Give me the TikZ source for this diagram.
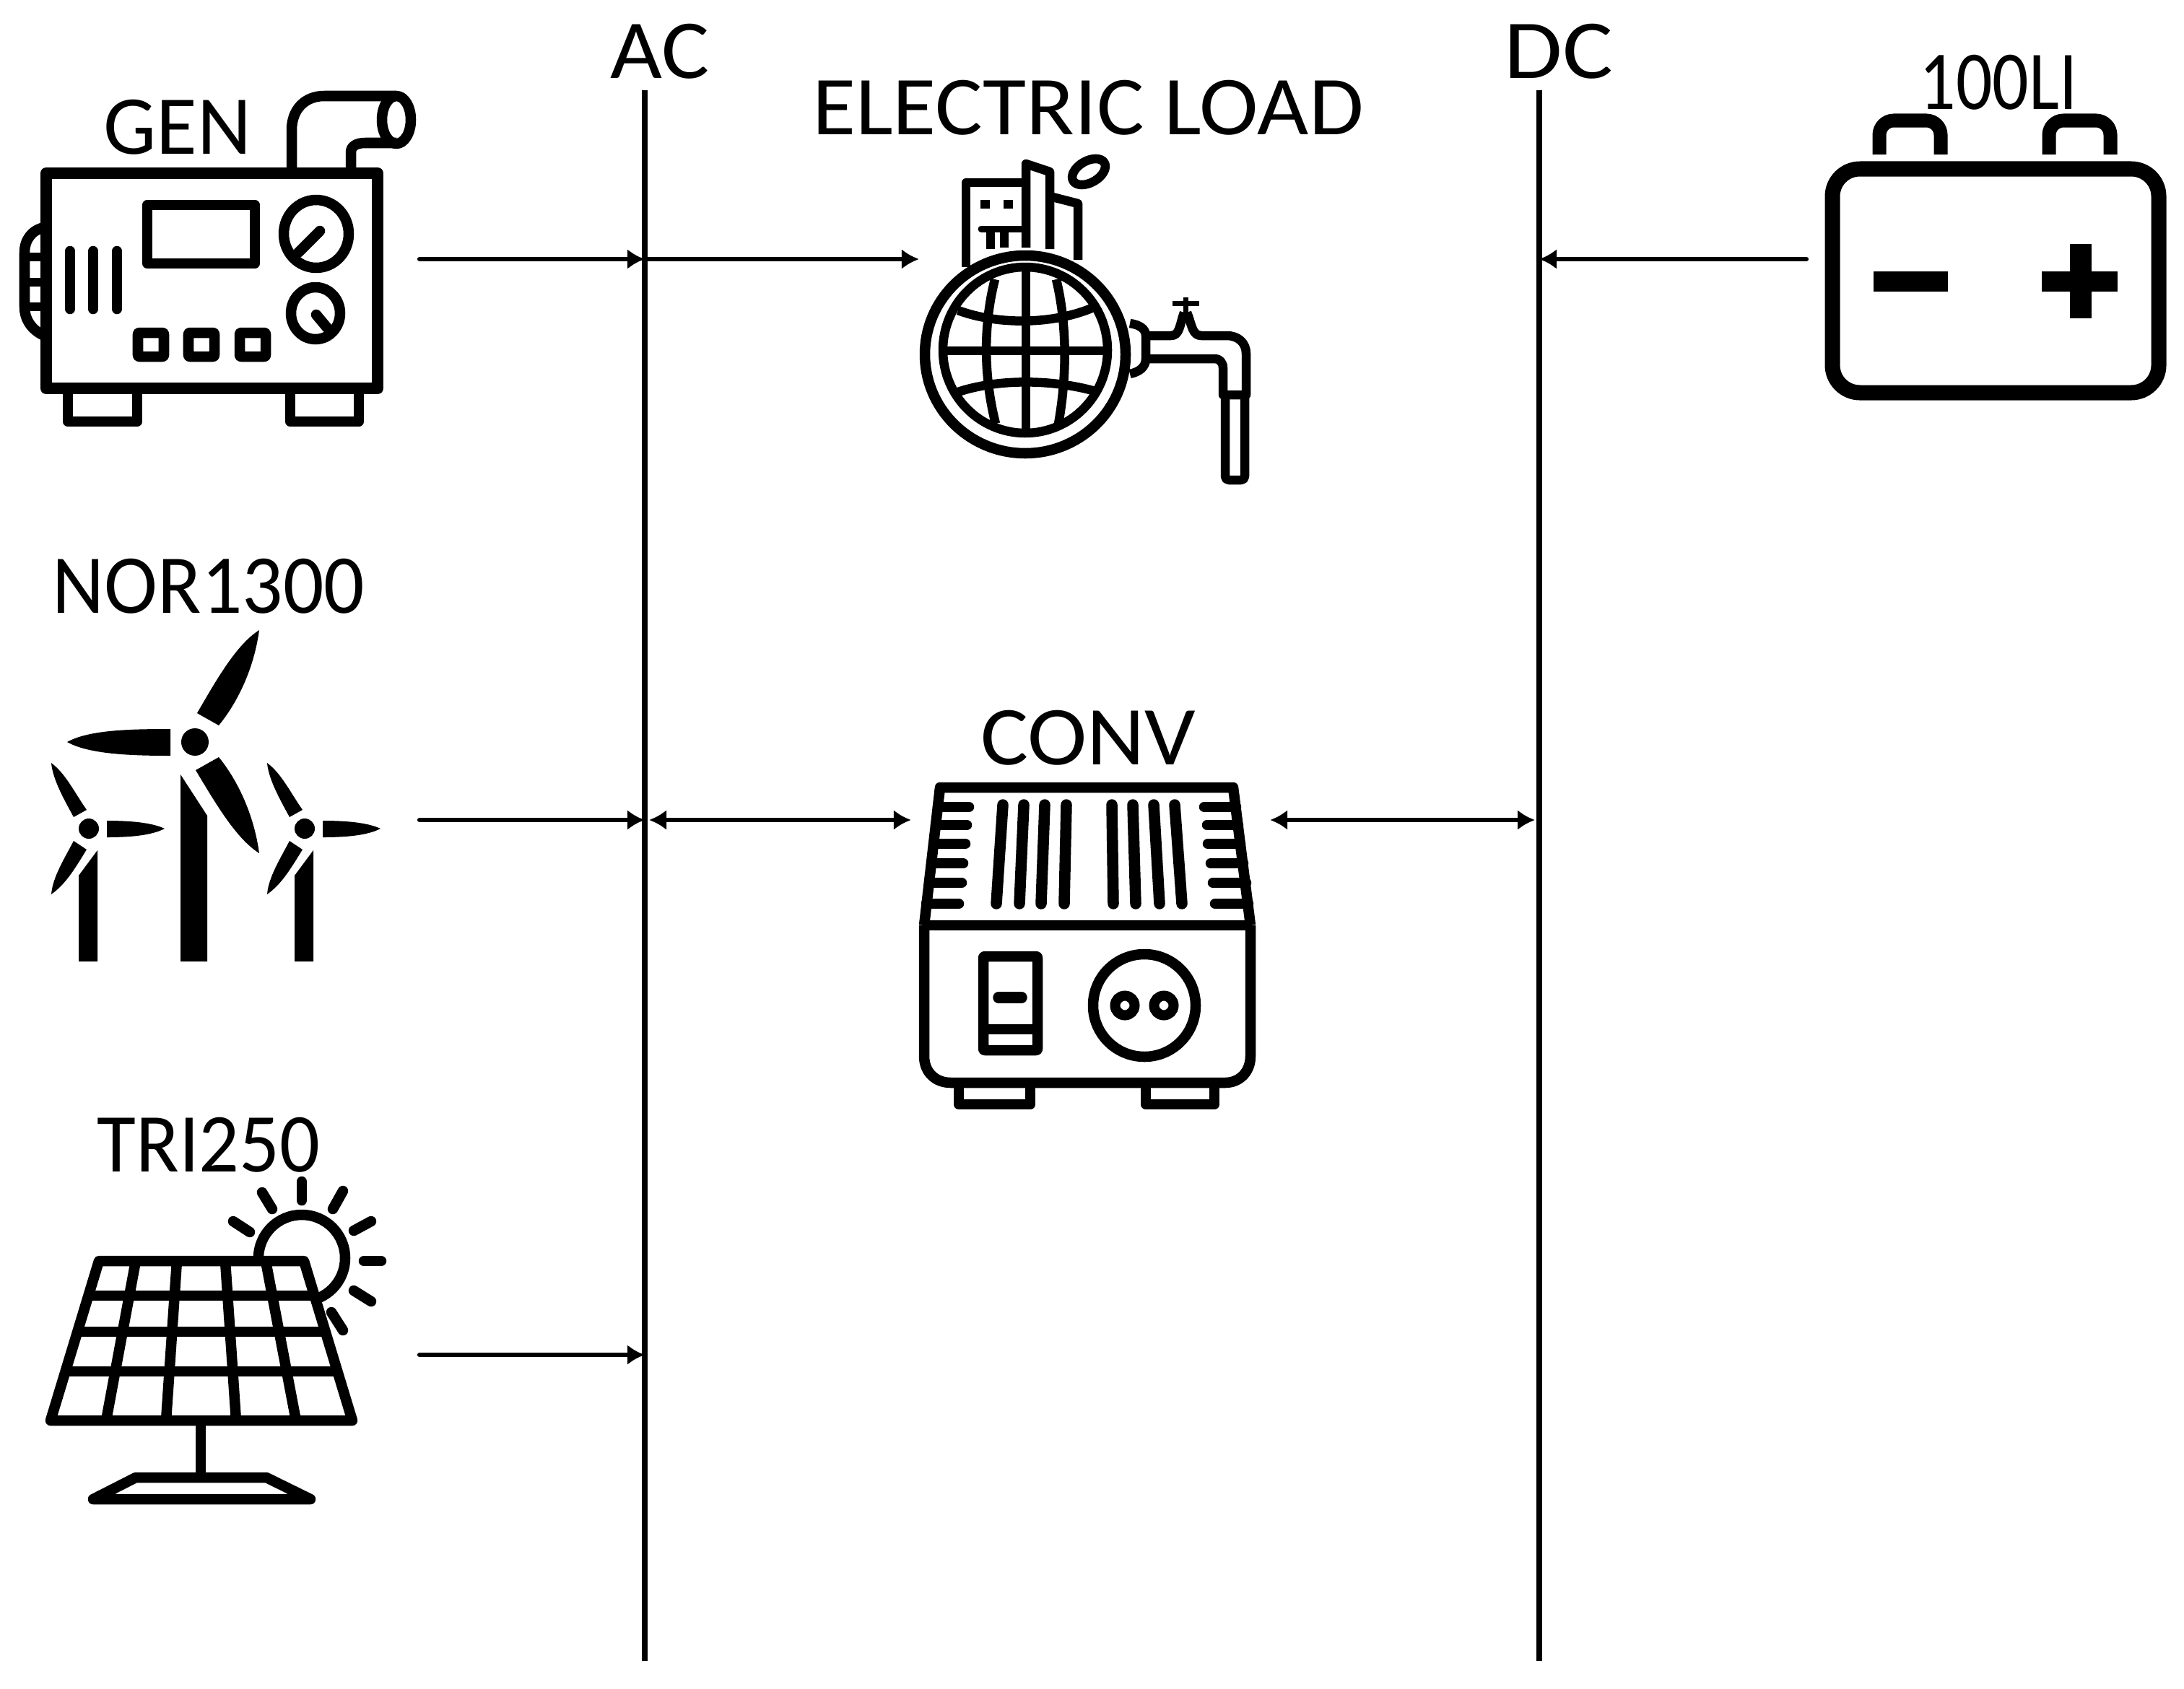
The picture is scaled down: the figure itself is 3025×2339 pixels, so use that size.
\documentclass[tikz,border=0pt]{standalone}
\usepackage{fontspec}
\setmainfont{Carlito}
\usetikzlibrary{arrows.meta,positioning}

\tikzset{
    ink/.style={line width=0.145cm, line join=round},
    thin ink/.style={line width=0.125cm, line join=round},
    stick/.style={ink, line cap=round},
    tag/.style={font=\fontsize{33}{33}\selectfont, inner sep=0pt, transform shape},
    box/.style={minimum height=1cm, inner sep=0pt, outer sep=0pt},
    bus/.style={line width=0.08cm},
    conn/.style={line width=0.065cm, line cap=round},
}

\begin{document}
\begin{tikzpicture}[x=0.01cm, y=-0.01cm, >={Latex[length=0.24cm,width=0.28cm]}]
        \useasboundingbox (0,0) rectangle (3025,2339);

        % labels
        \node[tag, xscale=1.07] (acl) at (914,71) {AC};
        \node[tag, xscale=1.13] (dcl) at (2159,71) {DC};
        \node[tag, xscale=1.06] (loadl) at (1507,149) {ELECTRIC LOAD};
        \node[tag] (genl) at (246,176) {GEN};
        \node[tag, xscale=0.96] (norl) at (289,812) {NOR1300};
        \node[tag, xscale=0.95] (tril) at (289,1586) {TRI250};
        \node[tag, xscale=1.07] (convl) at (1507,1022) {CONV};
        \node[tag, xscale=0.86] (batl) at (2768,114) {100LI};

        % the two bus bars
        \coordinate (actop) at (893,125);
        \coordinate (acbot) at (893,2301);
        \coordinate (dctop) at (2132,125);
        \coordinate (dcbot) at (2132,2301);
        \draw[bus] (actop) -- (acbot);
        \draw[bus] (dctop) -- (dcbot);

        % blank boxes round the icons, the arrows start from them
        \node[box, minimum width=5.66cm] (gen) at (298,359) {};
        \node[box, minimum width=5.15cm] (wind) at (323.5,1136) {};
        \node[box, minimum width=5.15cm] (sol) at (323.5,1877) {};
        \node[box, minimum width=4.30cm] (load) at (1488,359) {};
        \node[box, minimum width=4.97cm] (conv) at (1510.5,1136) {};
        \node[box, minimum width=5.00cm] (bat) at (2752,359) {};

        \draw[conn,->] (gen) -- (gen -| actop);
        \draw[conn,->] (gen -| actop) -- (load);
        \draw[conn,->] (bat) -- (bat -| dctop);
        \draw[conn,->] (wind) -- (wind -| actop);
        \draw[conn,<->] ([xshift=0.06cm]wind -| actop) -- (conv);
        \draw[conn,<->] (conv) -- ([xshift=-0.06cm]conv -| dctop);
        \draw[conn,->] (sol) -- (sol -| actop);

        % generator
        \draw[line width=0.16cm, line join=round] (64,240) rectangle (523,538);
        \draw[ink] (94,538) -- (94,584) -- (190,584) -- (190,538);
        \draw[ink] (402,538) -- (402,584) -- (497,584) -- (497,538);
        \draw[ink] (404,240) -- (404,180) .. controls (404,152) and (422,133) .. (449,133) -- (549,133);
        \draw[ink] (486,240) -- (486,211) .. controls (486,203) and (493,198) .. (506,198) -- (549,198);
        \draw[ink] (549,166) ellipse [x radius=20, y radius=33];
        \draw[ink] (61,315) .. controls (44,319) and (34,332) .. (34,350) -- (34,425) .. controls (34,443) and (44,457) .. (61,465);
        \foreach \y in {356,391,425}
            \draw[thin ink] (34,\y) -- (61,\y);
        \foreach \x in {97,129,162}
            \draw[stick] (\x,348) -- (\x,428);
        \draw[ink] (204,284) rectangle (353,365);
        \draw[ink] (438,324) ellipse [x radius=45, y radius=47];
        \draw[stick] (443,320) -- (413,350);
        \draw[ink] (437,434) ellipse [x radius=34, y radius=36];
        \draw[stick] (438,436) -- (453,454);
        \foreach \x in {209,279,350}
            \draw[ink, rounded corners=0.02cm] (\x-18,461) rectangle (\x+18,494);

        % electric load
        \draw[ink] (1420,491) ellipse [x radius=139, y radius=137];
        \draw[thin ink] (1420,485) ellipse [x radius=114, y radius=115];
        \draw[thin ink] (1421,372) -- (1421,598);
        \draw[thin ink] (1308,486) -- (1534,486);
        \draw[thin ink] (1378,387) .. controls (1362,450) and (1362,520) .. (1379,587);
        \draw[thin ink] (1463,387) .. controls (1478,450) and (1478,520) .. (1466,587);
        \draw[thin ink] (1327,430) .. controls (1381,450) and (1456,450) .. (1512,427);
        \draw[thin ink] (1327,543) .. controls (1381,525) and (1456,525) .. (1517,542);
        \draw[thin ink] (1338,370) -- (1338,253) -- (1418,253);
        \draw[thin ink] (1421,343) -- (1421,227) -- (1454,238) -- (1454,345);
        \draw[thin ink] (1454,272) -- (1493,282) -- (1493,360);
        \fill (1358,277) rectangle (1371,289);
        \fill (1390,277) rectangle (1403,289);
        \draw[stick, line width=0.09cm] (1359,317) -- (1418,317);
        \draw[thin ink] (1372,317) -- (1372,345);
        \draw[thin ink] (1391,317) -- (1391,343);
        \draw[thin ink, rotate around={30:(1508,238)}] (1508,238) ellipse [x radius=25, y radius=15];
        \draw[thin ink] (1565,448) .. controls (1579,450) and (1587,456) .. (1587,465) -- (1587,497) .. controls (1587,508) and (1579,515) .. (1565,518);
        \draw[thin ink] (1587,465) -- (1622,465) .. controls (1634,465) and (1634,450) .. (1640,433);
        \draw[thin ink] (1644,433) .. controls (1651,450) and (1651,465) .. (1664,465) -- (1699,465) .. controls (1715,465) and (1726,475) .. (1726,490) -- (1726,547) -- (1694,547) -- (1694,510) .. controls (1694,502) and (1689,497) .. (1683,497) -- (1587,497);
        \draw[line width=0.07cm] (1624,420) -- (1661,420);
        \draw[line width=0.07cm] (1642,412) -- (1642,436);
        \draw[thin ink, rounded corners=0.05cm] (1697,547) -- (1697,665) -- (1724,665) -- (1724,547);

        % wind turbines
        \fill (270,1028) circle [radius=19];
        \fill (273,988) -- (303,1005) .. controls (330,972) and (352,925) .. (359,873) .. controls (327,893) and (298,945) .. (273,988) -- cycle;
        \fill (236,1010) -- (236,1047) .. controls (182,1047) and (123,1045) .. (93,1028) .. controls (123,1011) and (182,1010) .. (236,1010) -- cycle;
        \fill (271,1067) -- (303,1049) .. controls (330,1082) and (352,1130) .. (359,1182) .. controls (327,1162) and (298,1112) .. (271,1067) -- cycle;
        \fill (250,1073) -- (287,1130) -- (287,1332) -- (250,1332) -- cycle;
        \foreach \dx in {0,299} {
            \fill (123+\dx,1148) circle [radius=14];
            \fill (102+\dx,1132) -- (120+\dx,1122) .. controls (102+\dx,1096) and (91+\dx,1072) .. (71+\dx,1057) .. controls (73+\dx,1080) and (89+\dx,1108) .. (102+\dx,1132) -- cycle;
            \fill (148+\dx,1137) -- (148+\dx,1160) .. controls (177+\dx,1160) and (209+\dx,1158) .. (228+\dx,1148) .. controls (209+\dx,1139) and (177+\dx,1137) .. (148+\dx,1137) -- cycle;
            \fill (102+\dx,1165) -- (120+\dx,1177) .. controls (104+\dx,1203) and (91+\dx,1225) .. (71+\dx,1239) .. controls (73+\dx,1215) and (89+\dx,1190) .. (102+\dx,1165) -- cycle;
            \fill (135+\dx,1178) -- (135+\dx,1332) -- (109+\dx,1332) -- (109+\dx,1213) -- cycle;
        }

        % solar panel
        \draw[ink] (418,1743) circle [radius=60];
        \draw[ink, fill=white] (137,1747) -- (421,1747) -- (488,1968) -- (70,1968) -- cycle;
        \draw[ink] (122,1795) -- (435,1795);
        \draw[ink] (107,1845) -- (451,1845);
        \draw[ink] (90,1900) -- (467,1900);
        \foreach \xa/\xb in {188/147,245/230,312/327,368/410}
            \draw[ink] (\xa,1747) -- (\xb,1968);
        \draw[ink] (278,1968) -- (278,2047);
        \draw[ink] (188,2047) -- (369,2047) -- (430,2077) -- (129,2077) -- cycle;
        \foreach \xa/\ya/\xb/\yb in {418/1637/418/1663,461/1675/475/1650,490/1705/514/1692,504/1747/528/1747,490/1788/514/1803,459/1818/475/1843,377/1675/363/1652,346/1707/323/1692}
            \draw[stick] (\xa,\ya) -- (\xb,\yb);

        % converter
        \draw[ink] (1280,1282) -- (1302,1091) -- (1708,1091) -- (1732,1282);
        \draw[ink] (1280,1282) -- (1732,1282);
        \draw[ink] (1280,1282) -- (1280,1463) .. controls (1280,1485) and (1295,1500) .. (1317,1500) -- (1697,1500) .. controls (1717,1500) and (1732,1485) .. (1732,1463) -- (1732,1282);
        \foreach \y/\xa/\xb/\xc/\xd in {1118/1299/1342/1668/1712,1143/1296/1339/1672/1715,1169/1293/1337/1673/1718,1196/1290/1334/1677/1722,1223/1287/1332/1680/1726,1252/1283/1328/1683/1729} {
            \draw[stick] (\xa,\y) -- (\xb,\y);
            \draw[stick] (\xc,\y) -- (\xd,\y);
        }
        \foreach \xa/\xb in {1389/1380,1418/1412,1447/1442,1477/1474,1540/1542,1569/1573,1598/1606,1627/1637}
            \draw[stick, line width=0.155cm] (\xa,1115) -- (\xb,1252);
        \draw[ink, rounded corners=0.02cm] (1362,1325) rectangle (1437,1455);
        \draw[ink] (1362,1426) -- (1437,1426);
        \draw[stick, line width=0.155cm] (1383,1382) -- (1415,1382);
        \draw[ink] (1585,1393) circle [radius=71];
        \foreach \x in {1558,1612}
            \draw[line width=0.14cm] (\x,1393) circle [radius=13.5];
        \foreach \xa/\xb in {1328/1427,1587/1682}
            \draw[ink] (\xa,1500) -- (\xa,1530) -- (\xb,1530) -- (\xb,1500);

        % battery
        \draw[line width=0.21cm, rounded corners=0.38cm] (2538,234) rectangle (2990,544);
        \foreach \xa/\xb in {2603/2688,2838/2923}
            \draw[line width=0.19cm, rounded corners=0.2cm] (\xa,214) -- (\xa,167) -- (\xb,167) -- (\xb,214);
        \fill (2595,376) rectangle (2698,404);
        \fill (2828,376) rectangle (2933,404);
        \fill (2867,338) rectangle (2897,441);
\end{tikzpicture}
\end{document}
